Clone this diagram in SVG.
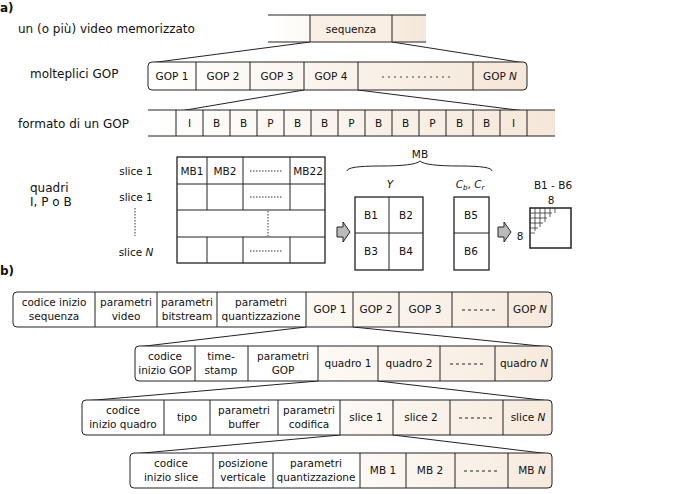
<svg xmlns="http://www.w3.org/2000/svg" width="682" height="494" viewBox="0 0 682 494">
<style>
text{font-family:"DejaVu Sans",sans-serif;font-size:10.5px;fill:#111;text-anchor:middle}
.l{text-anchor:start;font-size:12px}
.b{font-weight:bold;font-size:12px;text-anchor:start}
.s{stroke:#222;stroke-width:1;fill:none}
.k{stroke:#222;stroke-width:1.3;fill:none}
.d{stroke:#333;stroke-width:1;stroke-dasharray:1.5,1.5;fill:none}
.w{fill:#fff}
.t{fill:#f9efe4}
</style>
<defs>
<linearGradient id="gr" x1="0" y1="0" x2="1" y2="0"><stop offset="0" stop-color="#fdf9f5"/><stop offset="1" stop-color="#f6eadd"/></linearGradient>
<linearGradient id="gr2" x1="0" y1="0" x2="1" y2="0"><stop offset="0" stop-color="#ffffff"/><stop offset="1" stop-color="#f5e7d8"/></linearGradient>
</defs>
<text class="b" x="0" y="12">a)</text>
<text class="b" x="0" y="275">b)</text>
<g id="labels">
<text class="l" x="18" y="33">un (o più) video memorizzato</text>
<text class="l" x="30" y="78">molteplici GOP</text>
<text class="l" x="18" y="128">formato di un GOP</text>
<text class="l" x="30" y="192">quadri</text>
<text class="l" x="30" y="206">I, P o B</text>
</g>
<g id="connectors" class="s">
<line x1="310" y1="42" x2="150" y2="63"/><line x1="392" y1="42" x2="525" y2="63"/>
<line x1="304" y1="90" x2="180" y2="111"/><line x1="358" y1="90" x2="525" y2="111"/>
<line x1="306" y1="327" x2="137" y2="347"/><line x1="353" y1="327" x2="550" y2="347"/>
<line x1="318" y1="381" x2="84" y2="401"/><line x1="378" y1="381" x2="550" y2="401"/>
<line x1="340" y1="435" x2="132" y2="454"/><line x1="393" y1="435" x2="550" y2="454"/>
</g>
<g id="seq">
<rect x="268" y="15" width="158" height="27" fill="url(#gr2)"/>
<rect x="310" y="15" width="82" height="27" class="t"/>
<path class="s" d="M268 15H426M268 42H426M310 15V42M392 15V42"/>
<text x="351" y="33">sequenza</text>
</g>
<g id="gops">
<rect x="148" y="62" width="379" height="28" rx="4" fill="url(#gr2)"/>
<rect x="148" y="62" width="379" height="28" rx="4" fill="none" stroke="#222"/>
<path class="s" d="M196 62V90M250 62V90M304 62V90M358 62V90M473 62V90"/>
<line x1="382" y1="77" x2="452" y2="77" stroke="#444" stroke-dasharray="2,4"/>
<text x="172" y="80">GOP 1</text><text x="223" y="80">GOP 2</text><text x="277" y="80">GOP 3</text><text x="331" y="80">GOP 4</text><text x="500" y="80">GOP <tspan font-style="italic">N</tspan></text>
</g>
<g id="frames">
<rect x="148" y="110" width="407" height="26" fill="url(#gr2)"/>
<path class="s" d="M148 110H555M148 136H555M176 110V136M203 110V136M230 110V136M257 110V136M284 110V136M311 110V136M338 110V136M365 110V136M392 110V136M419 110V136M446 110V136M473 110V136M500 110V136M527 110V136"/>
<text x="189.5" y="127">I</text><text x="216.5" y="127">B</text><text x="243.5" y="127">B</text><text x="270.5" y="127">P</text><text x="297.5" y="127">B</text><text x="324.5" y="127">B</text><text x="351.5" y="127">P</text><text x="378.5" y="127">B</text><text x="405.5" y="127">B</text><text x="432.5" y="127">P</text><text x="459.5" y="127">B</text><text x="486.5" y="127">B</text><text x="513.5" y="127">I</text>
</g>
<g id="mbgrid">
<text x="136" y="175">slice 1</text><text x="136" y="201">slice 1</text><text x="136" y="256">slice <tspan font-style="italic">N</tspan></text>
<line class="d" x1="135" y1="208" x2="135" y2="236"/>
<rect x="177" y="157" width="148" height="106" class="k w"/>
<path class="s" d="M177 184H325M177 210H325M177 237H325M207 157V210M243 157V210M290 157V210M207 237V263M243 237V263M290 237V263"/>
<path class="d" d="M250 171H283M250 197H283M250 251H283M268 211V236"/>
<text x="192" y="175">MB1</text><text x="225" y="175">MB2</text><text x="308" y="175">MB22</text>
</g>
<g id="arrow1"><path d="M337 227H343V222L350 232L343 242V237H337Z" fill="#bbb" stroke="#222"/></g>
<g id="mb">
<path class="s" d="M347 171Q347 166 380 166Q415 166 420 161Q425 166 460 166Q492 166 492 171"/>
<text x="420" y="158">MB</text>
<text x="390" y="188" font-style="italic">Y</text>
<text x="470" y="188"><tspan font-style="italic">C</tspan><tspan font-style="italic" font-size="7" dy="2">b</tspan><tspan dy="-2">, </tspan><tspan font-style="italic">C</tspan><tspan font-style="italic" font-size="7" dy="2">r</tspan></text>
<rect x="355" y="197" width="68" height="73" class="k w"/>
<path class="s" d="M389 197V270M355 233H423"/>
<text x="371" y="219">B1</text><text x="406" y="219">B2</text><text x="371" y="255">B3</text><text x="406" y="255">B4</text>
<rect x="454" y="197" width="35" height="73" class="k w"/>
<path class="s" d="M454 233H489"/>
<text x="471" y="219">B5</text><text x="471" y="255">B6</text>
</g>
<g id="arrow2"><path d="M498 227H504V222L511 232L504 242V237H498Z" fill="#bbb" stroke="#222"/></g>
<g id="block">
<text x="553" y="189">B1 - B6</text>
<text x="551" y="204">8</text><text x="520" y="240">8</text>
<rect x="530" y="208" width="41" height="40" fill="#fff" stroke="#222" stroke-width="1.5"/>
<path stroke="#333" stroke-width="0.8" fill="none" d="M530 213H552M530 218H547M530 223H543M530 228H538M530 233H535M535 208V231M540 208V227M545 208V222M550 208V217M555 208V213"/>
</g>
<g id="row1">
<rect x="13" y="292" width="539" height="35" rx="4" class="w"/>
<rect x="306" y="292" width="246" height="35" fill="url(#gr)"/>
<rect x="13" y="292" width="539" height="35" rx="4" class="s"/>
<path class="s" d="M95 292V327M157 292V327M217 292V327M306 292V327M353 292V327M399 292V327M452 292V327M508 292V327"/>
<text x="54" y="306">codice inizio</text><text x="54" y="320">sequenza</text>
<text x="126" y="306">parametri</text><text x="126" y="320">video</text>
<text x="187" y="306">parametri</text><text x="187" y="320">bitstream</text>
<text x="261" y="306">parametri</text><text x="261" y="320">quantizzazione</text>
<text x="330" y="313">GOP 1</text><text x="376" y="313">GOP 2</text><text x="425" y="313">GOP 3</text>
<line class="s" x1="462" y1="310" x2="498" y2="310" stroke-dasharray="3,3"/>
<text x="530" y="313">GOP <tspan font-style="italic">N</tspan></text>
</g>
<g id="row2">
<rect x="135" y="346" width="417" height="35" rx="4" class="w"/>
<rect x="318" y="346" width="234" height="35" fill="url(#gr)"/>
<rect x="135" y="346" width="417" height="35" rx="4" class="s"/>
<path class="s" d="M195 346V381M248 346V381M318 346V381M378 346V381M440 346V381M495 346V381"/>
<text x="165" y="360">codice</text><text x="165" y="374">inizio GOP</text>
<text x="221" y="360">time-</text><text x="221" y="374">stamp</text>
<text x="283" y="360">parametri</text><text x="283" y="374">GOP</text>
<text x="348" y="367">quadro 1</text><text x="409" y="367">quadro 2</text>
<line class="s" x1="450" y1="364" x2="486" y2="364" stroke-dasharray="3,3"/>
<text x="524" y="367">quadro <tspan font-style="italic">N</tspan></text>
</g>
<g id="row3">
<rect x="82" y="400" width="470" height="35" rx="4" class="w"/>
<rect x="340" y="400" width="212" height="35" fill="url(#gr)"/>
<rect x="82" y="400" width="470" height="35" rx="4" class="s"/>
<path class="s" d="M164 400V435M210 400V435M278 400V435M340 400V435M393 400V435M450 400V435M503 400V435"/>
<text x="123" y="414">codice</text><text x="123" y="428">inizio quadro</text>
<text x="187" y="421">tipo</text>
<text x="244" y="414">parametri</text><text x="244" y="428">buffer</text>
<text x="309" y="414">parametri</text><text x="309" y="428">codifica</text>
<text x="366" y="421">slice 1</text><text x="421" y="421">slice 2</text>
<line class="s" x1="459" y1="418" x2="494" y2="418" stroke-dasharray="3,3"/>
<text x="528" y="421">slice <tspan font-style="italic">N</tspan></text>
</g>
<g id="row4">
<rect x="130" y="453" width="422" height="35" rx="4" class="w"/>
<rect x="360" y="453" width="192" height="35" fill="url(#gr)"/>
<rect x="130" y="453" width="422" height="35" rx="4" class="s"/>
<path class="s" d="M213 453V488M273 453V488M360 453V488M406 453V488M455 453V488M508 453V488"/>
<text x="171" y="467">codice</text><text x="171" y="481">inizio slice</text>
<text x="243" y="467">posizione</text><text x="243" y="481">verticale</text>
<text x="316" y="467">parametri</text><text x="316" y="481">quantizzazione</text>
<text x="383" y="474">MB 1</text><text x="430" y="474">MB 2</text>
<line class="s" x1="464" y1="471" x2="500" y2="471" stroke-dasharray="3,3"/>
<text x="532" y="474">MB <tspan font-style="italic">N</tspan></text>
</g>
</svg>
